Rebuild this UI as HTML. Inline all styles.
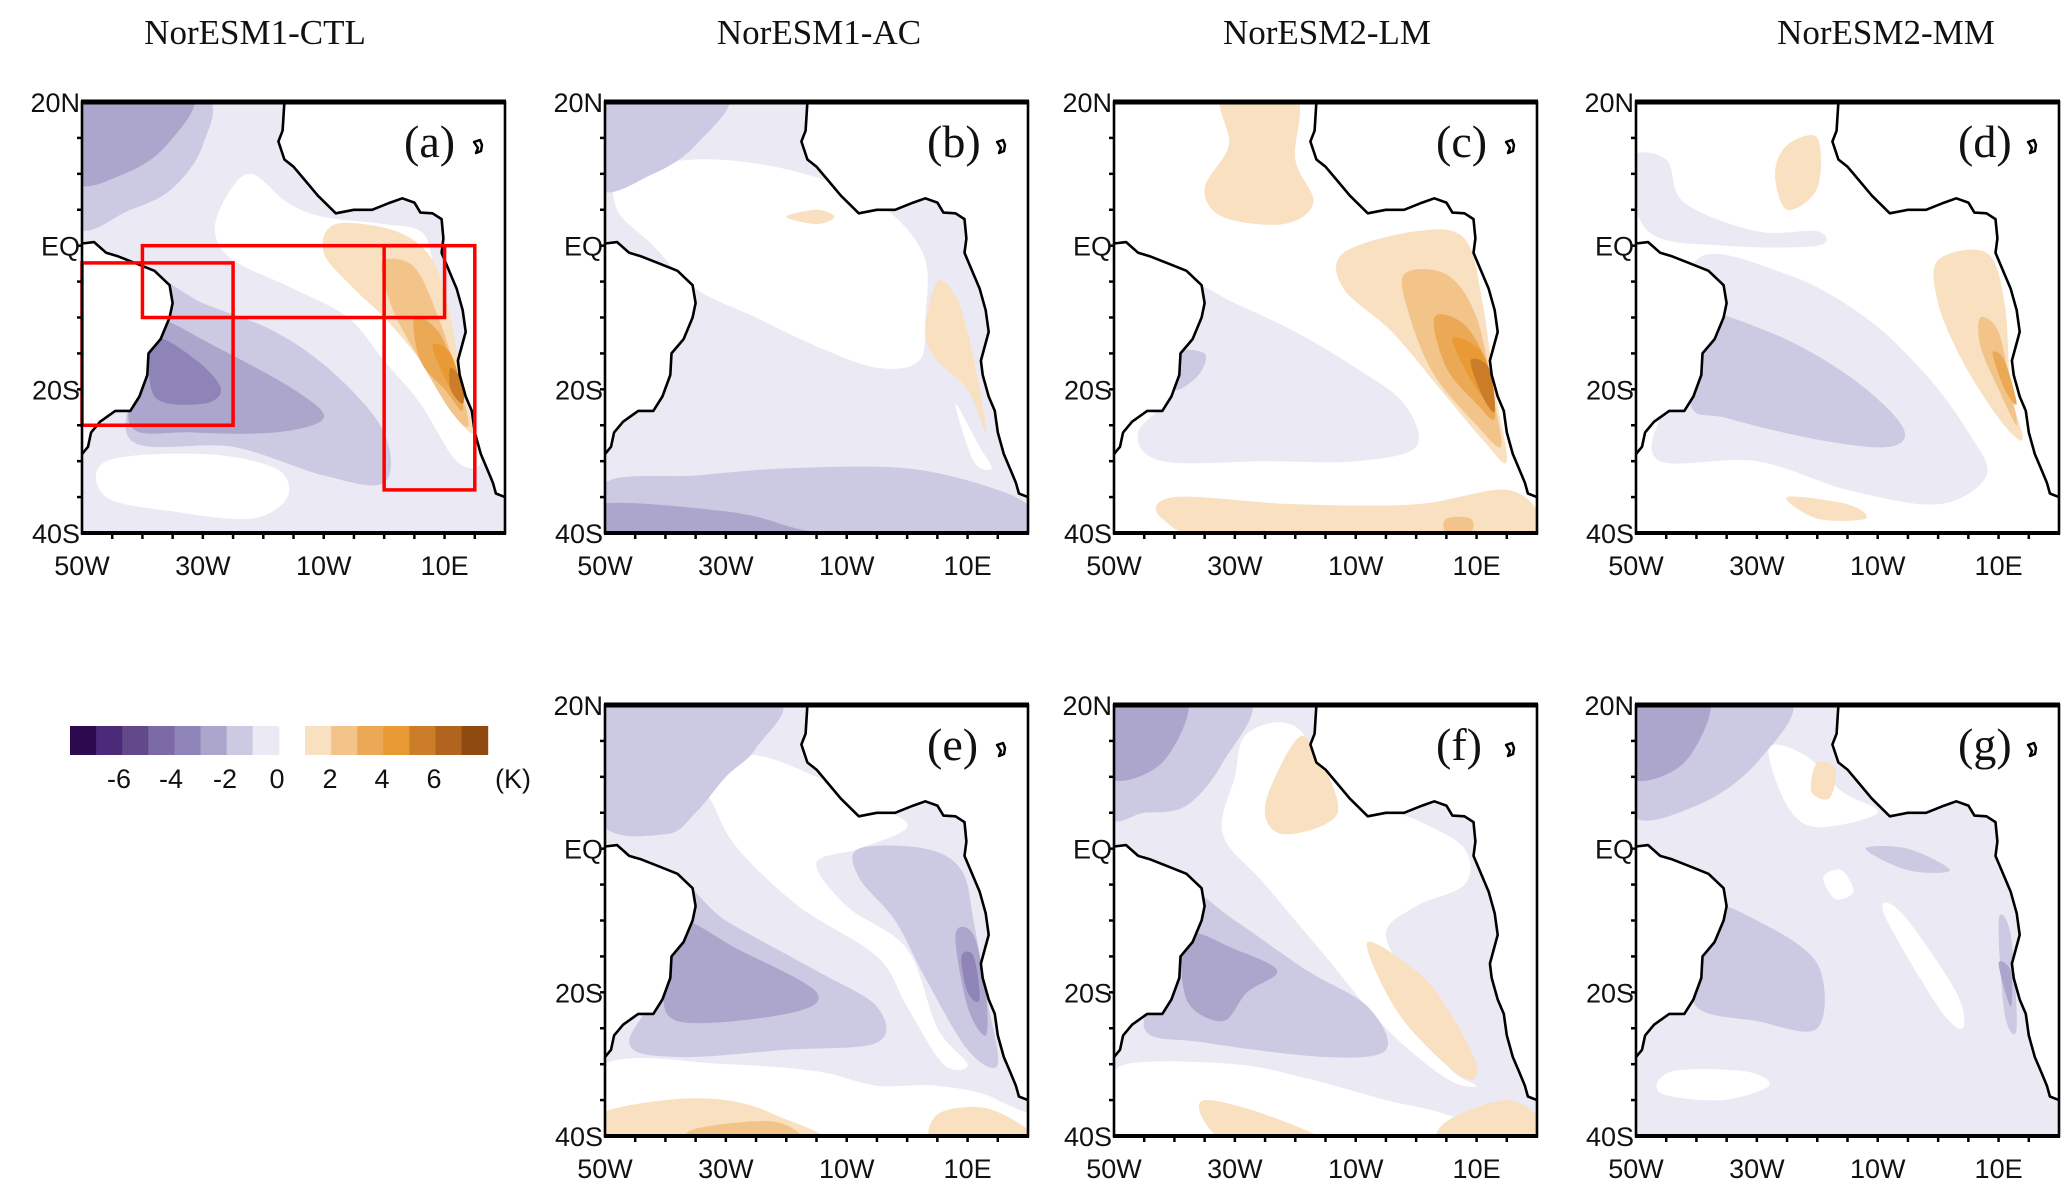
<!DOCTYPE html>
<html><head><meta charset="utf-8">
<style>
html,body{margin:0;padding:0;background:#fff;}
svg{display:block;}
.tt{font-family:"Liberation Serif",serif;font-size:35px;fill:#111;}
.tk{font-family:"Liberation Sans",sans-serif;font-size:27px;fill:#111;}
.pl{font-family:"Liberation Serif",serif;font-size:46px;fill:#111;}
</style></head>
<body>
<svg id="fig" width="2067" height="1188" viewBox="0 0 2067 1188" xmlns="http://www.w3.org/2000/svg"></svg>
<script>
// ---- data ----
const levelsNeg = ['#ebeaf4','#cccae2','#aca5cc','#8f84b8','#7b6aa6','#62498a','#4b2a7a','#2d0a4e'];
const levelsPos = ['#f8e0c0','#f3c48a','#eba955','#e99a34','#cc7d28','#b0641e','#8f4a10'];
const cbarLabels = ['-6','-4','-2','0','2','4','6'];
const xTicks = [[-50,'50W'],[-30,'30W'],[-10,'10W'],[10,'10E']];
const yTicks = [[20,'20N'],[0,'EQ'],[-20,'20S'],[-40,'40S']];
const titles = [['NorESM1-CTL',255],['NorESM1-AC',819],['NorESM2-LM',1327],['NorESM2-MM',1886]];
const africa = [[-16.5,20],[-16.8,16],[-17.5,14.5],[-16.5,12],[-15,11],[-13,9],[-11,7],[-8,4.5],[-5,5],[-2,5],[1,6],[3,6.6],[5,6],[6,4.6],[8,4.5],[9.5,3.7],[9.8,1],[9.5,-1],[11,-4],[12,-6],[13,-9],[13.5,-12],[12.2,-16],[12.5,-18],[13.5,-21],[14.5,-23],[15,-26],[16,-29],[17,-31],[18,-33],[18.5,-34.5],[20,-35]];
const samerica = [[-50,0.3],[-48,0.5],[-46,-1],[-44,-1.5],[-41,-2.5],[-38,-3.5],[-35.5,-5.5],[-35,-8],[-35.5,-10],[-37,-13],[-39,-15],[-39.2,-18],[-40.5,-21],[-42,-23],[-44.5,-23],[-47,-24.5],[-48.5,-26],[-49,-28],[-50,-29]];
const panelsData = {
a:{base:-1,blobs:[
 [0,[[-22,10],[-16,6],[-10,4],[0,3],[6,2],[8,-2],[10,-12],[13,-22],[16,-30],[12,-30],[6,-22],[0,-16],[-6,-10],[-15,-6],[-25,-2],[-28,2],[-26,7]]],
 [0,[[-46,-30],[-30,-29],[-18,-31],[-16,-35],[-22,-38],[-35,-37],[-46,-35]]],
 [-2,[[-50,21],[-30,21],[-30,14],[-35,8],[-42,5],[-51,3]]],
 [-3,[[-50,21],[-32,21],[-36,14],[-43,10],[-51,9]]],
 [-2,[[-40,-4],[-30,-8],[-18,-12],[-8,-18],[0,-26],[0,-33],[-10,-32],[-25,-28],[-42,-27],[-40,-15]]],
 [-3,[[-38,-10],[-28,-14],[-15,-20],[-10,-24],[-18,-26],[-32,-26],[-42,-25],[-40,-14]]],
 [-4,[[-38,-13],[-31,-16],[-27,-20],[-30,-22],[-38,-21]]],
 [1,[[-8,3],[2,2],[8,-2],[11,-10],[13,-20],[15,-26],[12,-24],[6,-16],[0,-10],[-5,-6],[-10,-1]]],
 [2,[[0,-2],[5,-3],[9,-10],[12,-18],[14,-25],[11,-23],[6,-16],[2,-10],[0,-5]]],
 [3,[[5,-10],[9,-12],[12,-18],[13,-23],[10,-20],[6,-16]]],
 [4,[[8,-14],[11,-15],[13,-21],[11,-20]]],
 [5,[[11,-17],[13,-19],[13,-22],[11,-20]]]]},
b:{base:-1,blobs:[
 [0,[[-47,10],[-35,12],[-22,11],[-10,8],[-2,4],[3,-2],[3,-10],[2,-16],[-5,-17],[-15,-14],[-25,-10],[-35,-6],[-42,0],[-48,5]]],
 [0,[[8,-22],[12,-28],[14,-31],[11,-30]]],
 [-2,[[-50,21],[-30,21],[-35,14],[-42,10],[-51,8]]],
 [-2,[[-50,-33],[-35,-32],[-20,-31],[0,-31],[15,-34],[21,-37],[21,-41],[-51,-41]]],
 [-3,[[-51,-36],[-30,-37],[-20,-39],[-15,-41],[-51,-41]]],
 [1,[[5,-5],[8,-7],[10,-12],[12,-20],[13,-26],[10,-20],[5,-16],[3,-12]]],
 [1,[[-20,4],[-15,5],[-12,4],[-15,3]]]]},
c:{base:0,blobs:[
 [-1,[[-38,-5],[-30,-8],[-20,-12],[-10,-17],[-2,-22],[0,-28],[-10,-30],[-25,-30],[-42,-30],[-46,-26],[-40,-20],[-40,-10]]],
 [-2,[[-40,-15],[-35,-15],[-36,-18],[-40,-20]]],
 [1,[[-32,21],[-20,21],[-20,12],[-17,6],[-22,3],[-32,4],[-35,8],[-31,14]]],
 [1,[[-12,-1],[0,2],[8,1],[11,-8],[13,-20],[15,-30],[11,-27],[4,-20],[-4,-12],[-12,-6]]],
 [2,[[-2,-4],[5,-4],[10,-10],[13,-22],[14,-28],[10,-25],[3,-18],[-1,-10]]],
 [3,[[3,-10],[8,-11],[12,-17],[13,-24],[10,-22],[5,-17]]],
 [4,[[6,-13],[11,-15],[13,-22],[10,-20]]],
 [5,[[9,-16],[12,-17],[13,-23],[11,-21]]],
 [1,[[-40,-35],[-20,-36],[0,-36],[15,-34],[21,-38],[21,-41],[-30,-41],[-42,-38]]],
 [2,[[5,-38],[9,-38],[9,-40],[5,-40]]]]},
d:{base:0,blobs:[
 [-1,[[-40,-2],[-25,-4],[-12,-10],[-2,-18],[5,-26],[8,-32],[0,-36],[-15,-34],[-30,-30],[-46,-30],[-46,-24],[-40,-18]]],
 [-1,[[-51,12],[-45,12],[-42,6],[-30,2],[-20,2],[-20,0],[-35,0],[-48,2]]],
 [-2,[[-40,-10],[-28,-12],[-15,-18],[-6,-25],[-8,-28],[-20,-27],[-35,-24],[-41,-22]]],
 [1,[[-25,14],[-20,15],[-20,8],[-25,5],[-27,10]]],
 [1,[[0,-2],[8,-1],[11,-8],[12,-20],[14,-27],[10,-24],[4,-16],[0,-8]]],
 [2,[[7,-10],[10,-12],[12,-20],[13,-25],[10,-20],[7,-14]]],
 [3,[[9,-15],[11,-16],[13,-22],[11,-20]]],
 [1,[[-25,-35],[-15,-36],[-12,-38],[-20,-38]]]]},
e:{base:-1,blobs:[
 [0,[[-35,12],[-25,13],[-15,10],[-5,6],[0,3],[-8,0],[-15,-2],[-10,-8],[0,-14],[5,-25],[10,-30],[6,-30],[0,-22],[-5,-15],[-18,-8],[-28,0],[-32,6]]],
 [0,[[-50,-30],[-30,-30],[-15,-31],[-5,-33],[5,-33],[15,-35],[21,-41],[-51,-41]]],
 [-2,[[-51,21],[-22,21],[-25,14],[-30,10],[-35,5],[-40,2],[-51,4]]],
 [-2,[[-8,0],[3,0],[9,-3],[11,-10],[13,-20],[15,-30],[10,-28],[3,-18],[-2,-10],[-8,-4]]],
 [-3,[[8,-12],[11,-12],[13,-20],[13,-26],[10,-22]]],
 [-4,[[9,-15],[11,-15],[12,-21],[10,-20]]],
 [-2,[[-38,-5],[-30,-10],[-15,-17],[-5,-22],[-5,-27],[-20,-28],[-38,-29],[-46,-27],[-40,-18]]],
 [-3,[[-38,-10],[-28,-14],[-15,-20],[-20,-23],[-38,-24],[-40,-18]]],
 [1,[[-51,-37],[-40,-35],[-30,-35],[-22,-37],[-15,-41],[-51,-41]]],
 [2,[[-35,-39],[-22,-38],[-18,-41],[-35,-41]]],
 [1,[[5,-37],[12,-36],[18,-38],[21,-41],[5,-41]]]]},
f:{base:-1,blobs:[
 [0,[[-28,16],[-20,17],[-12,8],[0,4],[8,0],[8,-5],[0,-8],[-5,-12],[0,-20],[5,-30],[10,-33],[5,-32],[-5,-25],[-15,-15],[-25,-5],[-32,2],[-30,10]]],
 [0,[[-48,-30],[-30,-30],[-18,-32],[-5,-35],[5,-37],[15,-41],[-51,-41],[-50,-34]]],
 [-2,[[-51,21],[-28,21],[-32,12],[-38,6],[-45,5],[-51,5]]],
 [-3,[[-51,21],[-38,21],[-42,12],[-51,10]]],
 [1,[[-20,15],[-17,14],[-13,5],[-22,2],[-25,6]]],
 [-2,[[-38,-6],[-30,-10],[-18,-17],[-8,-22],[-5,-28],[-15,-29],[-35,-27],[-45,-25],[-40,-15]]],
 [-3,[[-38,-12],[-30,-14],[-23,-17],[-28,-20],[-32,-24],[-38,-21]]],
 [1,[[-8,-13],[0,-17],[5,-22],[10,-30],[8,-32],[0,-26],[-5,-20]]],
 [1,[[-35,-35],[-25,-37],[-15,-41],[-30,-41],[-35,-38]]],
 [1,[[5,-38],[15,-35],[21,-38],[21,-41],[5,-41]]]]},
g:{base:-1,blobs:[
 [0,[[-28,14],[-22,13],[-16,8],[-10,5],[-20,3],[-25,6]]],
 [0,[[-19,-4],[-16,-3],[-14,-6],[-17,-7]]],
 [0,[[-9,-9],[-6,-9],[3,-20],[4,-25],[0,-22]]],
 [0,[[-44,-31],[-32,-31],[-28,-33],[-36,-35],[-46,-34]]],
 [-2,[[-51,21],[-25,21],[-30,12],[-40,6],[-51,5]]],
 [-3,[[-51,21],[-38,21],[-42,12],[-51,10]]],
 [-2,[[-38,-8],[-30,-10],[-20,-16],[-20,-25],[-30,-24],[-40,-22],[-40,-15]]],
 [-2,[[10,-10],[12,-12],[13,-25],[11,-23]]],
 [-3,[[10,-16],[12,-17],[12,-22]]],
 [-2,[[-12,0],[-5,0],[2,-3],[-5,-3]]],
 [1,[[-20,12],[-17,11],[-18,7],[-21,8]]]]}
};
const redBoxes = [[-40,10,0,-10],[-50,-25,-2.4,-25],[0,15,0,-34]];
const panels = [['a',82,102],['b',605,102],['c',1114,102],['d',1636,102],
                ['e',605,705],['f',1114,705],['g',1636,705]];
const PW=423, PH=431;

// ---- drawing ----
const NS='http://www.w3.org/2000/svg';
const svg=document.getElementById('fig');
function mk(tag,attrs,parent){const e=document.createElementNS(NS,tag);for(const k in attrs)e.setAttribute(k,attrs[k]);(parent||svg).appendChild(e);return e;}
function colorOf(l){if(l===0)return '#ffffff';return l<0?levelsNeg[-l-1]:levelsPos[l-1];}
function smooth(pts){const n=pts.length;let d='M'+pts[0][0].toFixed(1)+','+pts[0][1].toFixed(1);
 for(let i=0;i<n;i++){const p0=pts[(i-1+n)%n],p1=pts[i],p2=pts[(i+1)%n],p3=pts[(i+2)%n];
  const c1=[p1[0]+(p2[0]-p0[0])/6,p1[1]+(p2[1]-p0[1])/6],c2=[p2[0]-(p3[0]-p1[0])/6,p2[1]-(p3[1]-p1[1])/6];
  d+='C'+c1[0].toFixed(1)+','+c1[1].toFixed(1)+' '+c2[0].toFixed(1)+','+c2[1].toFixed(1)+' '+p2[0].toFixed(1)+','+p2[1].toFixed(1);}
 return d+'Z';}

titles.forEach(t=>{const e=mk('text',{x:t[1],y:44,'text-anchor':'middle',class:'tt'});e.textContent=t[0];
 
 });

panels.forEach(p=>{
 const [id,px,py]=p; const D=panelsData[id];
 const X=lon=>px+(lon+50)*PW/70, Y=lat=>py+(20-lat)*PH/60;
 const g=mk('g',{});  
 const cp=mk('clipPath',{id:'clip'+id},g); mk('rect',{x:px,y:py,width:PW,height:PH},cp);
 const field=mk('g',{'clip-path':'url(#clip'+id+')'},g);
 
 
 mk('rect',{x:px,y:py,width:PW,height:PH,fill:colorOf(D.base)},field);
 D.blobs.forEach(b=>{const pts=b[1].map(q=>[X(q[0]),Y(q[1])]);
  const e=mk('path',{d:smooth(pts),fill:colorOf(b[0])},field);
  
  });
 const af=africa.map(q=>X(q[0]).toFixed(1)+','+Y(q[1]).toFixed(1));
 mk('polygon',{points:af.join(' ')+' '+X(22)+','+Y(-35)+' '+X(22)+','+Y(22)+' '+X(-16.5)+','+Y(22),fill:'#fff'},field);
 const sa=samerica.map(q=>X(q[0]).toFixed(1)+','+Y(q[1]).toFixed(1));
 mk('polygon',{points:sa.join(' ')+' '+X(-52)+','+Y(-29)+' '+X(-52)+','+Y(0.3),fill:'#fff'},field);
 const c1=mk('polyline',{points:af.join(' '),fill:'none',stroke:'#000','stroke-width':2.6,'stroke-linejoin':'round'},field);
  
 const c2=mk('polyline',{points:sa.join(' '),fill:'none',stroke:'#000','stroke-width':2.6,'stroke-linejoin':'round'},field);
  
 const lx=px+392, ly=py+40;
 const lc=mk('path',{d:`M${lx},${ly} l6,-2 l2,5 l-1,6 l-5,2 l2,-5 z`,fill:'none',stroke:'#000','stroke-width':2.4,'stroke-linejoin':'round'},field);
  
 if(id==='a'){redBoxes.forEach(r=>{const e=mk('rect',{x:X(r[0]),y:Y(r[2]),width:X(r[1])-X(r[0]),height:Y(r[3])-Y(r[2]),fill:'none',stroke:'#f00','stroke-width':3.5},g);
   });}
 mk('rect',{x:px,y:py,width:PW,height:PH,fill:'none',stroke:'#000','stroke-width':2.6},g);
 mk('line',{x1:px-1,y1:py,x2:px+PW+1,y2:py,stroke:'#000','stroke-width':5},g);
 mk('line',{x1:px-1,y1:py+PH,x2:px+PW+1,y2:py+PH,stroke:'#000','stroke-width':4},g);
 for(let lon=-45;lon<20;lon+=5) mk('line',{x1:X(lon),y1:py+PH,x2:X(lon),y2:py+PH+6,stroke:'#000','stroke-width':2.5},g);
 for(let lat=15;lat>-40;lat-=5) mk('line',{x1:px,y1:Y(lat),x2:px-5,y2:Y(lat),stroke:'#000','stroke-width':2.5},g);
 xTicks.forEach(t=>{const e=mk('text',{x:X(t[0]),y:py+PH+42,'text-anchor':'middle',class:'tk'},g);e.textContent=t[1];
   });
 yTicks.forEach(t=>{const e=mk('text',{x:px-2,y:Y(t[0])+10,'text-anchor':'end',class:'tk'},g);e.textContent=t[1];
   });
 const lb=mk('text',{x:px+322,y:py+55,class:'pl'},g);lb.textContent='('+id+')';
  
});

const cb=mk('g',{});  
const SW=26.1;
levelsNeg.slice().reverse().forEach((c,i)=>{mk('rect',{x:70+i*SW,y:726,width:SW+0.5,height:29,fill:c},cb);});
levelsPos.forEach((c,i)=>{mk('rect',{x:305+i*SW,y:726,width:SW+0.5,height:29,fill:c},cb);});
const cbx=[119,171,225,277,330,382,434];
cbarLabels.forEach((t,i)=>{const e=mk('text',{x:cbx[i],y:788,'text-anchor':'middle',class:'tk'},cb);e.textContent=t;
  });
const ku=mk('text',{x:513,y:788,'text-anchor':'middle',class:'tk'},cb);ku.textContent='(K)';
 
</script>
</body></html>
